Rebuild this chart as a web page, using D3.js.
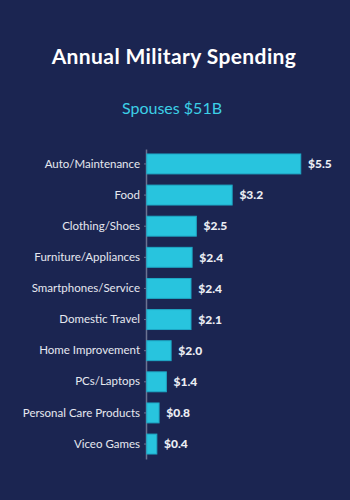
<!DOCTYPE html>
<html>
<head>
<meta charset="utf-8">
<script src="https://cdn.jsdelivr.net/npm/d3@7"></script>
<style>
  html, body { margin: 0; padding: 0; background: #1b2551; }
  svg { display: block; }
</style>
</head>
<body>
<svg id="drawing_region"></svg>
<script>
// categories, top to bottom
const categories = ["Auto/Maintenance", "Food", "Clothing/Shoes", "Furniture/Appliances",
    "Smartphones/Service", "Domestic Travel", "Home Improvement", "PCs/Laptops",
    "Personal Care Products", "Viceo Games"];
// printed values, billions of dollars
const values = [5.5, 3.2, 2.5, 2.4, 2.4, 2.1, 2.0, 1.4, 0.8, 0.4];
// bar lengths as drawn in the original (same units, not quite proportional to the labels)
const barLengths = [5.5, 3.05, 1.77, 1.62, 1.58, 1.58, 0.87, 0.70, 0.44, 0.36];

const title = "Annual Military Spending";
const subtitle = "Spouses $51B";

const config = {
    width: 350,
    height: 500,
    margin: {top: 149, right: 50, bottom: 41, left: 146}
};

const svg = d3.select('#drawing_region')
    .attr('width', config.width)
    .attr('height', config.height);

svg.append('rect')
    .attr('width', config.width)
    .attr('height', config.height)
    .attr('fill', '#1b2551');

svg.append('text')
    .attr('x', 174)
    .attr('y', 64)
    .attr('text-anchor', 'middle')
    .attr('fill', '#ffffff')
    .attr('font-family', 'Lato, sans-serif')
    .attr('font-weight', 'bold')
    .attr('font-size', 21)
    .attr('letter-spacing', 0.4)
    .text(title);

svg.append('text')
    .attr('x', 172)
    .attr('y', 114)
    .attr('text-anchor', 'middle')
    .attr('fill', '#3dd0e6')
    .attr('font-family', 'Lato, sans-serif')
    .attr('font-size', 16)
    .text(subtitle);

const inner_width = config.width - config.margin.left - config.margin.right;
const inner_height = config.height - config.margin.top - config.margin.bottom;

const chart = svg.append('g')
    .attr('transform', `translate(${config.margin.left}, ${config.margin.top})`);

const xscale = d3.scaleLinear()
    .domain([0, 5.5])
    .range([0, 154]);

const yscale = d3.scaleBand()
    .domain(categories)
    .range([0, inner_height])
    .paddingInner(0.36)
    .paddingOuter(0.16);

const yaxis = d3.axisLeft(yscale)
    .tickSize(2)
    .tickPadding(4)
    .tickSizeOuter(0);

const yaxis_group = chart.append('g')
    .call(yaxis);

yaxis_group.select('.domain')
    .attr('stroke', '#6b7392')
    .attr('stroke-width', 1.5);
yaxis_group.selectAll('.tick line')
    .attr('stroke', '#6b7392');
yaxis_group.selectAll('.tick text')
    .attr('fill', '#e6e8f0')
    .attr('font-family', 'Lato, sans-serif')
    .attr('font-size', 11.5);

const rows = categories.map((c, i) => ({label: c, value: values[i], len: barLengths[i]}));

chart.selectAll('rect.bar')
    .data(rows)
    .enter()
    .append('rect')
    .attr('class', 'bar')
    .attr('x', 0.75)
    .attr('y', d => yscale(d.label))
    .attr('width', d => xscale(d.len))
    .attr('height', yscale.bandwidth())
    .attr('fill', '#28c4de')
    .attr('stroke', '#1ea8c6')
    .attr('stroke-width', 1);

chart.selectAll('text.value')
    .data(rows)
    .enter()
    .append('text')
    .attr('class', 'value')
    .attr('x', d => xscale(d.len) + 8)
    .attr('y', d => yscale(d.label) + yscale.bandwidth() / 2)
    .attr('dy', '0.35em')
    .attr('fill', '#eceef4')
    .attr('font-family', 'Lato, sans-serif')
    .attr('font-weight', 900)
    .attr('font-size', 12)
    .text(d => '$' + d.value.toFixed(1));
</script>
</body>
</html>
